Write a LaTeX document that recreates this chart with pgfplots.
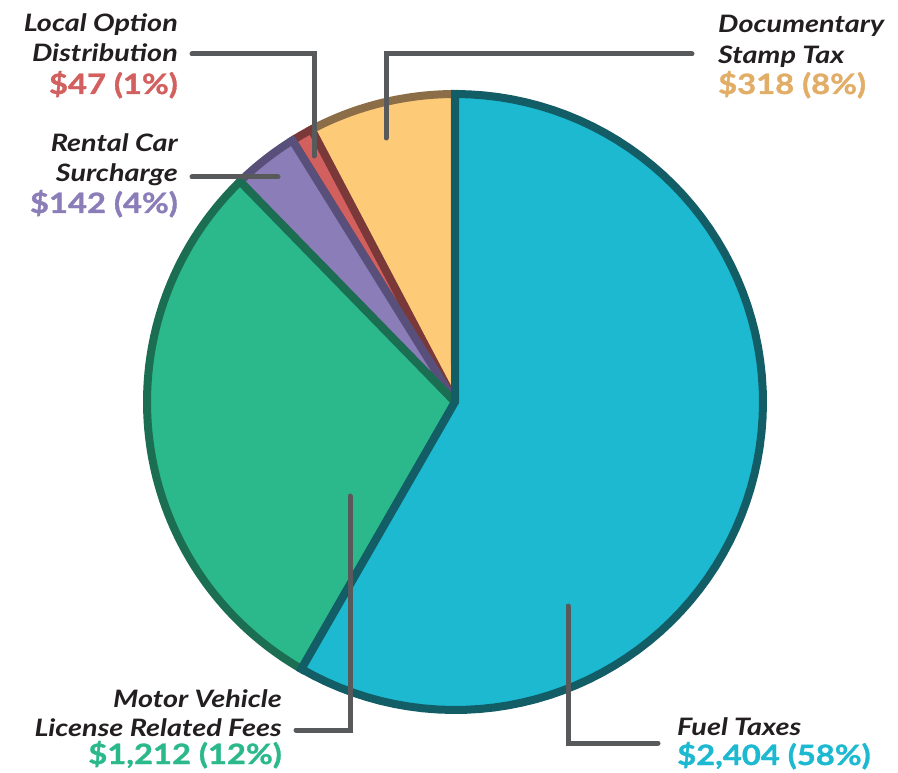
\documentclass[border=0pt]{standalone}
\usepackage{pgfplots}
\pgfplotsset{compat=1.18}
\usepackage{fontspec}
\setmainfont{Lato}
\newfontfamily\labfam{Lato}[FakeStretch=1.2]
\newfontfamily\valfam{Lato}[FakeStretch=1.17, FakeBold=1.2]
\definecolor{fuelF}{HTML}{1CB9D1}\definecolor{fuelD}{HTML}{135E66}
\definecolor{motF}{HTML}{2BB98C}\definecolor{motD}{HTML}{1C6E52}
\definecolor{renF}{HTML}{8B7DB8}\definecolor{renD}{HTML}{58507A}
\definecolor{locF}{HTML}{D2605E}\definecolor{locD}{HTML}{7B3838}
\definecolor{docF}{HTML}{FDCA78}\definecolor{docD}{HTML}{8B6E47}
\definecolor{docT}{HTML}{E2AD67}
\definecolor{lead}{HTML}{58595B}
\definecolor{txt}{HTML}{231F20}
\newcommand\labf{\color{txt}\labfam\bfseries\itshape\fontsize{24}{28}\selectfont}
\newcommand\valf{\valfam\bfseries\fontsize{28}{32}\selectfont}
\begin{document}
\begin{tikzpicture}
\def\vFuel{2404}\def\vMotor{1212}\def\vRental{142}\def\vLocal{47}\def\vDoc{318}
\pgfmathsetmacro\tot{\vFuel+\vMotor+\vRental+\vLocal+\vDoc}
\pgfmathsetmacro\aF{90-360*(\vFuel/\tot)}
\pgfmathsetmacro\aM{\aF-360*(\vMotor/\tot)}
\pgfmathsetmacro\aR{\aM-360*(\vRental/\tot)}
\pgfmathsetmacro\aL{\aR-360*(\vLocal/\tot)}
\pgfmathsetmacro\aD{\aL-360*(\vDoc/\tot)}
\begin{axis}[scale only axis, width=898pt, height=773pt,
  xmin=0, xmax=898, ymin=0, ymax=773, y dir=reverse,
  hide axis, clip=false]
\path (axis cs:0,0) rectangle (axis cs:898,773);
\pgfplotsset{wedge/.style={line width=8pt, line join=miter, samples=80, variable=\t}}
\addplot[wedge, fill=docF, draw=docD, domain=\aD:\aL] ({455+308*cos(t)},{402-308*sin(t)}) -- (axis cs:455,402) -- cycle;
\addplot[wedge, fill=locF, draw=locD, domain=\aL:\aR] ({455+308*cos(t)},{402-308*sin(t)}) -- (axis cs:455,402) -- cycle;
\addplot[wedge, fill=renF, draw=renD, domain=\aR:\aM] ({455+308*cos(t)},{402-308*sin(t)}) -- (axis cs:455,402) -- cycle;
\addplot[wedge, fill=motF, draw=motD, domain=\aM:\aF] ({455+308*cos(t)},{402-308*sin(t)}) -- (axis cs:455,402) -- cycle;
\addplot[wedge, fill=fuelF, draw=fuelD, domain=\aF:90] ({455+308*cos(t)},{402-308*sin(t)}) -- (axis cs:455,402) -- cycle;
% leader lines
\begin{scope}[lead, line width=5pt, line cap=round, line join=miter]
\draw (axis cs:314,156) -- (axis cs:314,54) -- (axis cs:192,54);
\draw (axis cs:278,177) -- (axis cs:192,177);
\draw (axis cs:386,138) -- (axis cs:386,54) -- (axis cs:692,54);
\draw (axis cs:350,496) -- (axis cs:350,730) -- (axis cs:296,730);
\draw (axis cs:568,606) -- (axis cs:568,743) -- (axis cs:658,743);
\end{scope}
% labels
\node[anchor=base east, inner sep=0pt, font=\labf] at (axis cs:178,32) {Local Option};
\node[anchor=base east, inner sep=0pt, font=\labf] at (axis cs:178,62) {Distribution};
\node[anchor=base east, inner sep=0pt, font=\valf, text=locF] at (axis cs:178,94) {\$47 (1\%)};
\node[anchor=base east, inner sep=0pt, font=\labf] at (axis cs:178,152) {Rental Car};
\node[anchor=base east, inner sep=0pt, font=\labf] at (axis cs:178,182) {Surcharge};
\node[anchor=base east, inner sep=0pt, font=\valf, text=renF] at (axis cs:178,213) {\$142 (4\%)};
\node[anchor=base west, inner sep=0pt, font=\labf] at (axis cs:718,33) {Documentary};
\node[anchor=base west, inner sep=0pt, font=\labf] at (axis cs:718,64) {Stamp Tax};
\node[anchor=base west, inner sep=0pt, font=\valf, text=docT] at (axis cs:718,94) {\$318 (8\%)};
\node[anchor=base east, inner sep=0pt, font=\labf] at (axis cs:282,707) {Motor Vehicle};
\node[anchor=base east, inner sep=0pt, font=\labf] at (axis cs:282,736) {License Related Fees};
\node[anchor=base east, inner sep=0pt, font=\valf, text=motF] at (axis cs:282,764) {\$1,212 (12\%)};
\node[anchor=base west, inner sep=0pt, font=\labf] at (axis cs:677,735) {Fuel Taxes};
\node[anchor=base west, inner sep=0pt, font=\valf, text=fuelF] at (axis cs:677,765) {\$2,404 (58\%)};
\end{axis}
\end{tikzpicture}
\end{document}
